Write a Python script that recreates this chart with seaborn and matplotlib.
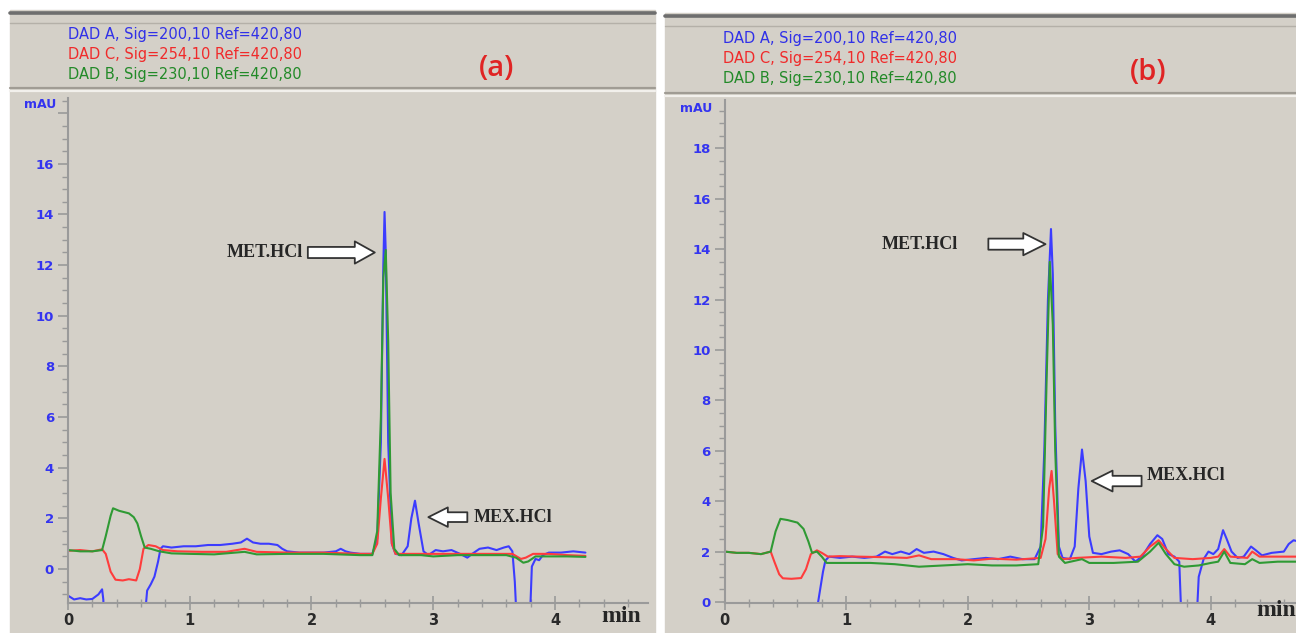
import matplotlib
matplotlib.use("Agg")
import matplotlib.pyplot as plt
from matplotlib.patches import Rectangle
from matplotlib.lines import Line2D
from matplotlib.ticker import MultipleLocator
import seaborn as sns

sns.set_style("ticks")
plt.rcParams["font.family"] = ["DejaVu Sans"]

W, H = 1296, 633
PANEL_BG = "#d4d0c8"
BLUE = "#3c3cff"
RED = "#ff3c3c"
GREEN = "#2f9a34"
TRACE_COLORS = [BLUE, RED, GREEN]

channel_labels = [
    "DAD A, Sig=200,10 Ref=420,80",
    "DAD C, Sig=254,10 Ref=420,80",
    "DAD B, Sig=230,10 Ref=420,80",
]

# ---- panel (a) traces: time (min), signal (mAU) ----
a_blue_t = [0.00, 0.05, 0.10, 0.15, 0.20, 0.25, 0.28, 0.29, 0.30, 0.62, 0.65, 0.68, 0.71, 0.74,
            0.76, 0.78, 0.85, 0.95, 1.05, 1.15, 1.25, 1.35, 1.42, 1.47, 1.52, 1.58, 1.65, 1.72,
            1.76, 1.80, 1.90, 2.00, 2.10, 2.20, 2.24, 2.28, 2.32, 2.40, 2.50, 2.54, 2.57, 2.59,
            2.60, 2.61, 2.63, 2.66, 2.69, 2.74, 2.79, 2.82, 2.85, 2.88, 2.92, 2.96, 3.02, 3.08,
            3.15, 3.22, 3.28, 3.32, 3.38, 3.45, 3.52, 3.58, 3.62, 3.65, 3.67, 3.69, 3.79, 3.81,
            3.84, 3.87, 3.90, 3.95, 4.05, 4.15, 4.25]
a_blue_v = [-1.05, -1.2, -1.15, -1.2, -1.18, -1.0, -0.8, -1.2, -2.5, -2.5, -0.85, -0.6, -0.3, 0.3,
            0.8, 0.9, 0.85, 0.9, 0.9, 0.95, 0.95, 1.0, 1.05, 1.2, 1.05, 1.0, 1.0, 0.95,
            0.8, 0.7, 0.65, 0.65, 0.65, 0.7, 0.8, 0.7, 0.65, 0.6, 0.6, 1.2, 5.0, 12.0,
            14.1, 12.5, 5.0, 1.0, 0.6, 0.55, 0.9, 2.0, 2.7, 1.8, 0.7, 0.55, 0.75, 0.7,
            0.75, 0.6, 0.45, 0.6, 0.8, 0.85, 0.75, 0.85, 0.9, 0.7, -0.5, -2.5, -2.5, 0.1,
            0.4, 0.35, 0.55, 0.65, 0.65, 0.7, 0.65]

a_red_t = [0.00, 0.10, 0.20, 0.28, 0.31, 0.35, 0.39, 0.45, 0.50, 0.56, 0.59, 0.62, 0.66, 0.72,
           0.78, 0.90, 1.10, 1.30, 1.45, 1.55, 1.80, 2.10, 2.40, 2.50, 2.54, 2.57, 2.60, 2.63,
           2.66, 2.69, 2.80, 2.95, 3.10, 3.30, 3.50, 3.65, 3.72, 3.76, 3.82, 3.95, 4.10, 4.25]
a_red_v = [0.72, 0.75, 0.7, 0.78, 0.6, -0.1, -0.42, -0.45, -0.4, -0.45, 0.0, 0.8, 0.95, 0.9,
           0.75, 0.7, 0.68, 0.68, 0.8, 0.68, 0.65, 0.65, 0.6, 0.6, 1.0, 2.8, 4.35, 2.8,
           1.0, 0.6, 0.6, 0.6, 0.6, 0.6, 0.6, 0.6, 0.4, 0.45, 0.6, 0.6, 0.55, 0.52]

a_green_t = [0.00, 0.10, 0.20, 0.28, 0.31, 0.35, 0.37, 0.42, 0.50, 0.54, 0.57, 0.60, 0.63, 0.68,
             0.75, 0.85, 1.00, 1.20, 1.45, 1.55, 1.80, 2.10, 2.40, 2.50, 2.54, 2.57, 2.59, 2.61,
             2.63, 2.65, 2.68, 2.72, 2.90, 3.00, 3.20, 3.40, 3.60, 3.68, 3.74, 3.78, 3.84, 3.95,
             4.10, 4.25]
a_green_v = [0.75, 0.7, 0.7, 0.75, 1.3, 2.1, 2.4, 2.3, 2.2, 2.05, 1.8, 1.3, 0.85, 0.8,
             0.7, 0.62, 0.6, 0.58, 0.68, 0.58, 0.6, 0.6, 0.55, 0.55, 1.5, 6.0, 11.5, 12.6,
             9.0, 3.0, 0.8, 0.55, 0.55, 0.5, 0.55, 0.55, 0.55, 0.45, 0.25, 0.3, 0.5, 0.5,
             0.5, 0.48]

# ---- panel (b) traces ----
b_blue_t = [0.74, 0.77, 0.79, 0.81, 0.83, 0.86, 0.95, 1.05, 1.15, 1.25, 1.32, 1.38, 1.45, 1.52,
            1.58, 1.64, 1.72, 1.80, 1.88, 1.95, 2.05, 2.15, 2.25, 2.35, 2.45, 2.55, 2.60, 2.63,
            2.66, 2.685, 2.70, 2.72, 2.75, 2.78, 2.84, 2.88, 2.91, 2.94, 2.97, 3.00, 3.03, 3.10,
            3.18, 3.25, 3.32, 3.38, 3.44, 3.50, 3.56, 3.60, 3.65, 3.70, 3.74, 3.76, 3.88, 3.90,
            3.94, 3.98, 4.02, 4.06, 4.10, 4.13, 4.17, 4.22, 4.27, 4.33, 4.37, 4.42, 4.50, 4.60,
            4.64, 4.68, 4.72]
b_blue_v = [-1.0, 0.0, 0.6, 1.2, 1.65, 1.8, 1.75, 1.8, 1.75, 1.8, 2.0, 1.9, 2.0, 1.9,
            2.1, 1.95, 2.0, 1.9, 1.75, 1.65, 1.7, 1.75, 1.7, 1.8, 1.7, 1.7, 2.2, 6.0,
            12.0, 14.8, 13.0, 7.0, 2.2, 1.75, 1.7, 2.2, 4.5, 6.05, 4.8, 2.6, 1.95, 1.9,
            2.0, 2.05, 1.9, 1.6, 1.85, 2.3, 2.65, 2.5, 1.9, 1.8, 1.6, -1.0, -1.0, 1.0,
            1.7, 2.0, 1.9, 2.1, 2.85, 2.5, 2.0, 1.75, 1.8, 2.2, 2.05, 1.85, 1.95, 2.0,
            2.3, 2.45, 2.4]

b_red_t = [0.00, 0.10, 0.20, 0.30, 0.38, 0.41, 0.45, 0.48, 0.55, 0.63, 0.67, 0.71, 0.76, 0.80,
           0.85, 0.95, 1.10, 1.30, 1.50, 1.60, 1.70, 1.90, 2.05, 2.20, 2.40, 2.60, 2.64, 2.67,
           2.69, 2.71, 2.74, 2.78, 2.90, 3.10, 3.30, 3.42, 3.50, 3.57, 3.63, 3.70, 3.85, 4.00,
           4.06, 4.11, 4.16, 4.30, 4.34, 4.40, 4.55, 4.72]
b_red_v = [2.0, 1.95, 1.95, 1.9, 2.0, 1.6, 1.1, 0.94, 0.92, 0.95, 1.3, 1.9, 2.05, 1.95,
           1.8, 1.82, 1.8, 1.78, 1.75, 1.85, 1.7, 1.7, 1.65, 1.72, 1.68, 1.75, 2.5, 4.5,
           5.2, 4.0, 1.9, 1.7, 1.75, 1.8, 1.75, 1.8, 2.2, 2.45, 2.1, 1.75, 1.7, 1.75,
           1.8, 2.1, 1.8, 1.75, 2.0, 1.8, 1.8, 1.8]

b_green_t = [0.00, 0.10, 0.20, 0.30, 0.38, 0.42, 0.46, 0.52, 0.60, 0.65, 0.69, 0.72, 0.76, 0.80,
             0.84, 1.00, 1.20, 1.40, 1.60, 1.80, 2.00, 2.20, 2.40, 2.58, 2.62, 2.65, 2.675, 2.70,
             2.72, 2.75, 2.80, 2.94, 3.00, 3.20, 3.40, 3.50, 3.57, 3.63, 3.70, 3.78, 3.90, 4.00,
             4.06, 4.11, 4.16, 4.28, 4.34, 4.40, 4.55, 4.72]
b_green_v = [2.0, 1.95, 1.95, 1.9, 2.0, 2.8, 3.3, 3.25, 3.15, 2.9, 2.4, 1.95, 2.0, 1.8,
             1.55, 1.55, 1.55, 1.5, 1.4, 1.45, 1.5, 1.45, 1.45, 1.5, 3.0, 9.0, 13.5, 11.0,
             6.0, 1.8, 1.55, 1.7, 1.55, 1.55, 1.6, 2.0, 2.35, 1.9, 1.5, 1.4, 1.45, 1.55,
             1.6, 2.0, 1.55, 1.5, 1.7, 1.55, 1.6, 1.6]


def fx(px):
    return px / W


def fy(py):
    return 1 - py / H


def draw_panel(fig, x0, x1, y0, y1, bar_y, sep_y):
    fig.patches.append(Rectangle((fx(x0), fy(y1)), fx(x1 - x0), (y1 - y0) / H,
                                 transform=fig.transFigure, color=PANEL_BG, zorder=-5))
    fig.lines.append(Line2D([fx(x0), fx(x1)], [fy(bar_y)] * 2, transform=fig.transFigure,
                           color="#6e6e6e", lw=2.6))
    fig.lines.append(Line2D([fx(x0), fx(x1)], [fy(bar_y + 10)] * 2, transform=fig.transFigure,
                           color="#b4b0a8", lw=1.0))
    fig.lines.append(Line2D([fx(x0), fx(x1)], [fy(sep_y)] * 2, transform=fig.transFigure,
                           color="#a09c94", lw=1.6))
    fig.lines.append(Line2D([fx(x0), fx(x1)], [fy(sep_y + 3)] * 2, transform=fig.transFigure,
                           color="#f2f0ec", lw=1.6))


def make_axes(fig, left, right, top, bottom, xlim, ylim):
    ax = fig.add_axes([fx(left), fy(bottom), (right - left) / W, (bottom - top) / H])
    ax.set_zorder(1)
    ax.patch.set_alpha(0)
    ax.set_xlim(*xlim)
    ax.set_ylim(*ylim)
    for side in ["top", "right"]:
        ax.spines[side].set_visible(False)
    for side in ["left", "bottom"]:
        ax.spines[side].set_color("#9a9a9a")
        ax.spines[side].set_linewidth(1.5)
    ax.yaxis.set_minor_locator(MultipleLocator(0.5))
    ax.xaxis.set_major_locator(MultipleLocator(1))
    ax.xaxis.set_minor_locator(MultipleLocator(0.2))
    ax.tick_params(axis="y", which="major", length=7, width=1.2, color="#9a9a9a",
                   labelcolor="#3434f0", labelsize=9.5, pad=3)
    ax.tick_params(axis="y", which="minor", length=4, width=1.0, color="#9a9a9a")
    ax.tick_params(axis="x", which="major", direction="inout", length=10, width=1.2,
                   color="#9a9a9a", labelcolor="#2a2a2a", labelsize=10.5, pad=2)
    ax.tick_params(axis="x", which="minor", direction="inout", length=6, width=1.0,
                   color="#9a9a9a")
    return ax


def bold_ticks(ax):
    for lab in ax.get_xticklabels() + ax.get_yticklabels():
        lab.set_fontweight("bold")


def plot_traces(ax, traces):
    for (t, v), color in zip(traces, TRACE_COLORS):
        sns.lineplot(x=t, y=v, ax=ax, color=color, lw=1.5, estimator=None,
                     sort=False, legend=False)
    ax.set_xlabel("")
    ax.set_ylabel("")


def hollow_arrow(ax, tip, tail, scale, hw, tw, hl):
    ax.annotate("", xy=tip, xytext=tail,
                arrowprops=dict(arrowstyle=f"simple,head_length={hl},head_width={hw},tail_width={tw}",
                                fc="white", ec="#333333", lw=1.3, mutation_scale=scale,
                                shrinkA=0, shrinkB=0))


fig = plt.figure(figsize=(W / 100, H / 100), dpi=100)
fig.patch.set_facecolor("white")

draw_panel(fig, 10, 655, 10, 633, 13, 88)
draw_panel(fig, 665, 1296, 13, 633, 16, 93)

# header text
for i, (lab, color) in enumerate(zip(channel_labels, ["#3030e8", "#f02a2a", "#228a28"])):
    fig.text(fx(68), fy(35 + 20 * i), lab, color=color, fontsize=10.5, va="center")
    fig.text(fx(723), fy(38 + 20 * i), lab, color=color, fontsize=10.5, va="center")
fig.text(fx(497), fy(68), "(a)", color="#e02424", fontsize=21, family="Open Sans",
         fontweight="semibold", ha="center", va="center")
fig.text(fx(1148), fy(72), "(b)", color="#e02424", fontsize=21, family="Open Sans",
         fontweight="semibold", ha="center", va="center")

# panel (a)
ax_a = make_axes(fig, 68, 648, 98, 603, (0, 4.764), (-1.34, 18.6))
plot_traces(ax_a, [(a_blue_t, a_blue_v), (a_red_t, a_red_v), (a_green_t, a_green_v)])
ax_a.set_yticks(range(0, 19, 2))
ax_a.set_yticklabels([str(v) for v in range(0, 17, 2)] + [""])
bold_ticks(ax_a)
ax_a.text(-0.1, 18.35, "mAU", color="#3434f0", fontsize=9, fontweight="bold",
          ha="right", va="center")

# panel (b)
ax_b = make_axes(fig, 724.5, 1296, 100, 603, (0, 4.70), (-0.04, 19.92))
plot_traces(ax_b, [(b_blue_t, b_blue_v), (b_red_t, b_red_v), (b_green_t, b_green_v)])
ax_b.set_yticks(range(0, 19, 2))
bold_ticks(ax_b)
ax_b.text(-0.1, 19.6, "mAU", color="#3434f0", fontsize=9, fontweight="bold",
          ha="right", va="center")

# peak annotations
lbl = dict(family="Liberation Serif", fontweight="bold", fontsize=13, va="center")
hollow_arrow(ax_a, (2.52, 12.5), (1.97, 12.5), 16, 1.0, 0.5, 0.9)
ax_a.text(1.93, 12.5, "MET.HCl", ha="right", **lbl)
hollow_arrow(ax_a, (2.96, 2.05), (3.28, 2.05), 14, 1.0, 0.5, 1.0)
ax_a.text(3.33, 2.05, "MEX.HCl", ha="left", **lbl)
hollow_arrow(ax_b, (2.64, 14.2), (2.17, 14.2), 16, 1.0, 0.5, 1.0)
ax_b.text(1.92, 14.2, "MET.HCl", ha="right", **lbl)
hollow_arrow(ax_b, (3.02, 4.8), (3.43, 4.8), 15, 1.0, 0.5, 1.0)
ax_b.text(3.47, 5.0, "MEX.HCl", ha="left", **lbl)

fig.text(fx(621), fy(617), "min", family="Liberation Serif", fontweight="bold",
         fontsize=17, ha="center", va="center")
fig.text(fx(1276), fy(611), "min", family="Liberation Serif", fontweight="bold",
         fontsize=17, ha="center", va="center")

fig.savefig("out.png", dpi=100, facecolor="white")
